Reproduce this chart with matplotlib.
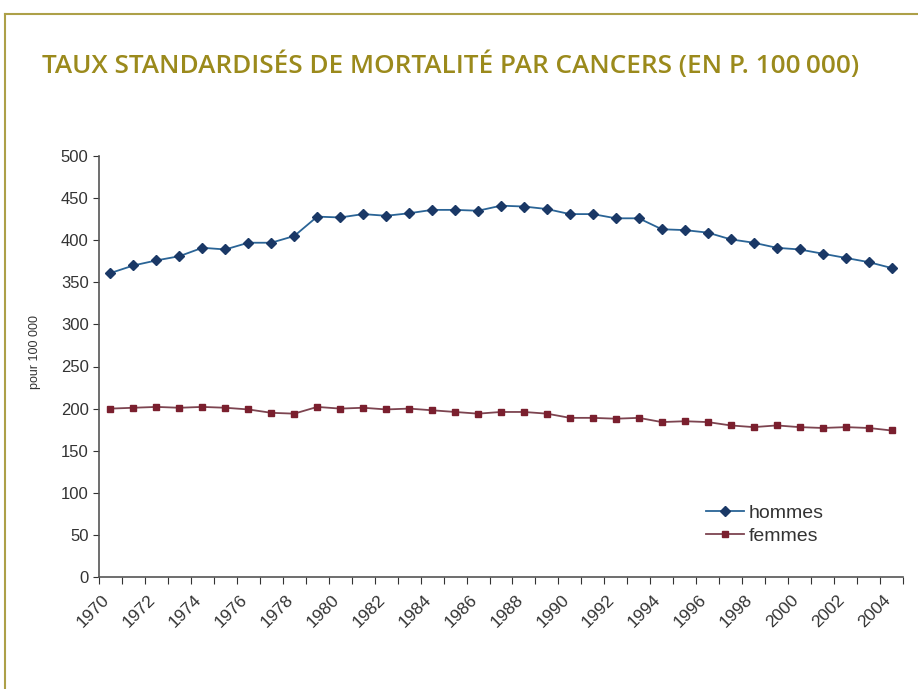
import numpy as np
import matplotlib.pyplot as plt
from matplotlib.lines import Line2D

# values
years = list(range(1970, 2005))
hommes = [361, 370, 376, 381, 391, 389, 397, 397, 405, 428,
          427, 431, 429, 432, 436, 436, 435, 441, 440, 437,
          431, 431, 426, 426, 413, 412, 409, 401, 397, 391,
          389, 384, 379, 374, 367]
femmes = [200, 201, 202, 201, 202, 201, 199, 195, 194, 202,
          200, 201, 199, 200, 198, 196, 194, 196, 196, 194,
          189, 189, 188, 189, 184, 185, 184, 180, 178, 180,
          178, 177, 178, 177, 174]
yticks = list(range(0, 501, 50))

TITLE_COLOR = "#9B8A1C"
FRAME_COLOR = "#ADA048"
H_LINE, H_MARK = "#2A6496", "#1A3866"
F_LINE, F_MARK = "#7D4450", "#7A1F2E"
TEXT = "#333333"

plt.rcParams["font.family"] = ["Liberation Sans", "DejaVu Sans"]

fig = plt.figure(figsize=(9.18, 6.89), dpi=100)
fig.patch.set_facecolor("white")

# olive frame (top and left edges)
fig.add_artist(Line2D([5 / 918, 1], [1 - 14 / 689] * 2, color=FRAME_COLOR, lw=1.5))
fig.add_artist(Line2D([5 / 918] * 2, [0, 1 - 14 / 689], color=FRAME_COLOR, lw=1.5))

fig.text(42 / 918, 1 - 65 / 689,
         "TAUX STANDARDISÉS DE MORTALITÉ PAR CANCERS (EN P. 100\u2009000)",
         family=["Open Sans", "DejaVu Sans"], fontweight="semibold",
         fontsize=18.8, color=TITLE_COLOR, va="center", ha="left")

ax = fig.add_axes([99 / 918, 1 - 577 / 689, 804 / 918, 421 / 689])
x = np.arange(len(years))
ax.plot(x, hommes, color=H_LINE, lw=1.3, marker="D", ms=5,
        mfc=H_MARK, mec=H_MARK, label="hommes")
ax.plot(x, femmes, color=F_LINE, lw=1.3, marker="s", ms=5,
        mfc=F_MARK, mec=F_MARK, label="femmes")

ax.set_xlim(-0.5, len(years) - 0.5)
ax.set_ylim(0, 500)
ax.set_yticks(yticks)
ax.set_yticklabels([str(v) for v in yticks], fontsize=12, color=TEXT)

# category axis: ticks between categories, labels every two years
# (label ends sit a little left of the category centre, as in Excel)
ax.set_xticks(np.arange(-0.5, len(years)), minor=False)
ax.set_xticklabels([])
label_pos = x[::2]
ax.set_xticks(label_pos - 0.38, minor=True)
ax.set_xticklabels([str(years[i]) for i in label_pos], minor=True,
                   rotation=45, ha="right", rotation_mode="anchor",
                   fontsize=12.5, color=TEXT)
ax.tick_params(axis="x", which="major", length=5, direction="out", color=TEXT)
ax.tick_params(axis="x", which="minor", length=0, pad=11)
ax.tick_params(axis="y", length=4, direction="out", color=TEXT)

for s in ("top", "right"):
    ax.spines[s].set_visible(False)
for s in ("left", "bottom"):
    ax.spines[s].set_color("#555555")
    ax.spines[s].set_linewidth(1.2)

fig.text(35 / 918, 1 - 352 / 689, "pour 100 000", rotation=90,
         fontsize=9, color=TEXT, ha="center", va="center")

ax.legend(frameon=False, loc="upper left", fontsize=14,
          bbox_to_anchor=(688 / 918, 1 - 487 / 689),
          bbox_transform=fig.transFigure, handlelength=2.0,
          handletextpad=0.2, labelspacing=0.25, labelcolor=TEXT)

fig.savefig("out.png", dpi=100, facecolor="white")
